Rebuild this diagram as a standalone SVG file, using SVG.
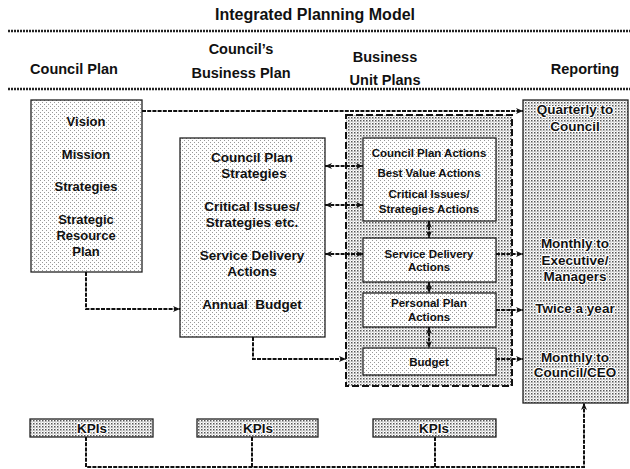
<svg xmlns="http://www.w3.org/2000/svg" width="630" height="469" viewBox="0 0 630 469">
<style>
text{font-family:"Liberation Sans",Arial,sans-serif;font-weight:bold;fill:#111;text-anchor:middle}
.h{font-size:14.5px}
.t{font-size:16px}
.b13{font-size:13px}
.b135{font-size:13.5px}
.s{font-size:11.5px}
.halo{stroke:#fff;stroke-width:2.2px;paint-order:stroke;stroke-linejoin:round}
.box{stroke:#222;stroke-width:1.3}
.rule{stroke:#222;stroke-width:2.5;stroke-dasharray:2 1;fill:none}
.con{stroke:#111;stroke-width:2;stroke-dasharray:4 1.2;fill:none}
.dash{stroke:#111;stroke-width:2;stroke-dasharray:7 3;fill:url(#dn)}
</style>
<defs>
<pattern id="lt" width="4" height="4" patternUnits="userSpaceOnUse"><rect width="4" height="4" fill="#fff"/><rect x="0" y="0" width="1" height="1" fill="#999"/><rect x="2" y="2" width="1" height="1" fill="#999"/></pattern>
<pattern id="dn" width="3" height="3" patternUnits="userSpaceOnUse"><rect width="3" height="3" fill="#fff"/><rect x="0" y="0" width="1.5" height="1.5" fill="#555"/><rect x="1.5" y="1.5" width="1" height="1" fill="#888"/></pattern>
<marker id="ah" markerUnits="userSpaceOnUse" markerWidth="8" markerHeight="8" refX="7" refY="4" orient="auto-start-reverse"><path d="M0,1 L7,4 L0,7 L2,4 z" fill="#111"/></marker>
</defs>
<text class="t" x="315" y="20">Integrated Planning Model</text>
<line class="rule" x1="8" y1="31" x2="630" y2="31"/>
<line class="rule" x1="8" y1="89" x2="630" y2="89"/>
<g id="headers">
<text class="h" x="74" y="74">Council Plan</text>
<text class="h" x="241" y="54">Council’s</text>
<text class="h" x="241" y="78">Business Plan</text>
<text class="h" x="385" y="62">Business</text>
<text class="h" x="385" y="85">Unit Plans</text>
<text class="h" x="585" y="74">Reporting</text>
</g>
<g id="bup-container"><rect class="dash" x="346" y="115" width="166" height="271"/></g>
<g id="council-plan">
<rect class="box" x="31" y="100" width="111" height="172" fill="url(#lt)"/>
<text class="b13" x="86" y="126">Vision</text>
<text class="b13" x="86" y="159">Mission</text>
<text class="b13" x="86" y="191">Strategies</text>
<text class="b13" x="86" y="224">Strategic</text>
<text class="b13" x="86" y="240">Resource</text>
<text class="b13" x="86" y="256">Plan</text>
</g>
<g id="business-plan">
<rect class="box" x="180" y="138" width="145" height="199" fill="url(#lt)"/>
<text class="b135" x="252" y="162">Council Plan</text>
<text class="b135" x="254" y="178">Strategies</text>
<text class="b135" x="252" y="211">Critical Issues/</text>
<text class="b135" x="252" y="227">Strategies etc.</text>
<text class="b135" x="252" y="260">Service Delivery</text>
<text class="b135" x="252" y="276">Actions</text>
<text class="b135" x="252" y="309" xml:space="preserve">Annual  Budget</text>
</g>
<g id="unit-actions">
<rect class="box" x="363" y="138" width="133" height="83" fill="url(#lt)"/>
<text class="s" x="429" y="157">Council Plan Actions</text>
<text class="s" x="429" y="177">Best Value Actions</text>
<text class="s" x="429" y="198">Critical Issues/</text>
<text class="s" x="429" y="213">Strategies Actions</text>
</g>
<g id="service-delivery">
<rect class="box" x="363" y="238" width="133" height="44" fill="url(#lt)"/>
<text class="s" x="429" y="258">Service Delivery</text>
<text class="s" x="429" y="271">Actions</text>
</g>
<g id="personal-plan">
<rect class="box" x="363" y="293" width="133" height="34" fill="url(#lt)"/>
<text class="s" x="429" y="307">Personal Plan</text>
<text class="s" x="429" y="321">Actions</text>
</g>
<g id="budget">
<rect class="box" x="363" y="348" width="133" height="27" fill="url(#lt)"/>
<text class="s" x="429" y="366">Budget</text>
</g>
<g id="reporting">
<rect class="box" x="523" y="100" width="105" height="303" fill="url(#dn)"/>
<text class="b135 halo" x="575" y="114">Quarterly to</text>
<text class="b135 halo" x="575" y="131">Council</text>
<text class="b135 halo" x="575" y="248">Monthly to</text>
<text class="b135 halo" x="575" y="265">Executive/</text>
<text class="b135 halo" x="575" y="281">Managers</text>
<text class="b135 halo" x="575" y="313">Twice a year</text>
<text class="b135 halo" x="575" y="362">Monthly to</text>
<text class="b135 halo" x="575" y="377">Council/CEO</text>
</g>
<g id="kpi1"><rect class="box" x="30" y="419" width="123" height="18" fill="url(#dn)"/><text class="b135 halo" x="92" y="433">KPIs</text></g>
<g id="kpi2"><rect class="box" x="197" y="419" width="121" height="18" fill="url(#dn)"/><text class="b135 halo" x="258" y="433">KPIs</text></g>
<g id="kpi3"><rect class="box" x="373" y="419" width="123" height="18" fill="url(#dn)"/><text class="b135 halo" x="434" y="433">KPIs</text></g>
<g id="connectors">
<path class="con" d="M142,111 H523" marker-end="url(#ah)"/>
<path class="con" d="M86,272 V309 H180" marker-end="url(#ah)"/>
<path class="con" d="M253,337 V359 H346" marker-end="url(#ah)"/>
<path class="con" d="M325,166 H363" marker-start="url(#ah)" marker-end="url(#ah)"/>
<path class="con" d="M325,205 H363" marker-start="url(#ah)" marker-end="url(#ah)"/>
<path class="con" d="M325,254 H363" marker-start="url(#ah)" marker-end="url(#ah)"/>
<path class="con" d="M429,221 V238" marker-start="url(#ah)" marker-end="url(#ah)"/>
<path class="con" d="M429,282 V293" marker-start="url(#ah)" marker-end="url(#ah)"/>
<path class="con" d="M429,327 V348" marker-start="url(#ah)" marker-end="url(#ah)"/>
<path class="con" d="M496,254 H523" marker-end="url(#ah)"/>
<path class="con" d="M496,310 H523" marker-end="url(#ah)"/>
<path class="con" d="M496,359 H523" marker-end="url(#ah)"/>
<path class="con" d="M86,437 V467 H584 V403" marker-end="url(#ah)"/>
<path class="con" d="M252,437 V467"/>
<path class="con" d="M435,437 V467"/>
</g>
</svg>
